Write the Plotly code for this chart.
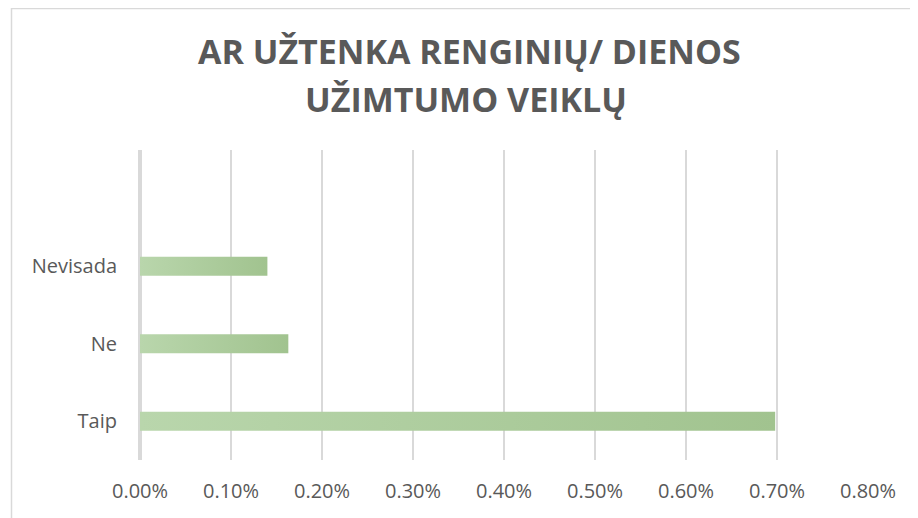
import plotly.graph_objects as go

# Dados
categorias = ["Taip", "Ne", "Nevisada"]
valores = [0.698, 0.163, 0.140]
ticks_x = [0.0, 0.1, 0.2, 0.3, 0.4, 0.5, 0.6, 0.7, 0.8]
titulo_l1 = "AR UŽTENKA RENGINIŲ/ DIENOS"
titulo_l2 = "UŽIMTUMO VEIKLŲ"

# A página tem margem de 8px no body, então desconto isso
OFF = 8
W, H = 918, 518
L, R, T, B = 140 - OFF, 868 - OFF, 150 - OFF, 460 - OFF


def px_x(x):
    return (x - OFF - L) / (R - L)


def px_y(y):
    return (B - (y - OFF)) / (B - T)


fig = go.Figure()

# Barras horizontais com gradiente (retângulos preenchidos)
meia = 0.121
for i, (cat, v) in enumerate(zip(categorias, valores)):
    fig.add_trace(go.Scatter(
        x=[0, v, v, 0, 0],
        y=[i - meia, i - meia, i + meia, i + meia, i - meia],
        mode="lines",
        line=dict(width=0),
        fill="toself",
        fillgradient=dict(
            type="horizontal",
            colorscale=[[0, "#b9d6ac"], [1, "#a1c38f"]],
        ),
        name=cat,
        hoverinfo="skip",
        showlegend=False,
    ))

fig.update_layout(
    width=W,
    height=H,
    margin=dict(l=L, r=W - R, t=T, b=H - B),
    paper_bgcolor="white",
    plot_bgcolor="white",
    font=dict(family="Open Sans", size=20, color="#595959"),
    showlegend=False,
    xaxis=dict(
        range=[0, 0.8],
        tickvals=ticks_x,
        ticktext=[f"{t:.2f}%" for t in ticks_x],
        showgrid=True,
        gridcolor="#d9d9d9",
        gridwidth=2,
        zeroline=True,
        zerolinecolor="#d9d9d9",
        zerolinewidth=4,
        showline=False,
        ticks="",
        ticklabelstandoff=17,
        fixedrange=True,
    ),
    yaxis=dict(
        range=[-0.5, 3.5],
        tickvals=list(range(len(categorias))),
        ticktext=categorias,
        showgrid=False,
        zeroline=False,
        showline=False,
        ticks="",
        ticklabelstandoff=22,
        fixedrange=True,
    ),
    annotations=[
        dict(text=titulo_l1, xref="paper", yref="paper",
             x=px_x(469), y=px_y(51), xanchor="center", yanchor="middle",
             showarrow=False,
             font=dict(family="Open Sans", size=34, color="#595959", weight="bold")),
        dict(text=titulo_l2, xref="paper", yref="paper",
             x=px_x(466), y=px_y(99), xanchor="center", yanchor="middle",
             showarrow=False,
             font=dict(family="Open Sans", size=34, color="#595959", weight="bold")),
    ],
    shapes=[
        dict(type="rect", xref="paper", yref="paper",
             x0=px_x(11.5), y0=px_y(540), x1=px_x(940), y1=px_y(8.5),
             line=dict(color="#d9d9d9", width=1.5), layer="below"),
    ],
)

fig.write_html("out.html")
